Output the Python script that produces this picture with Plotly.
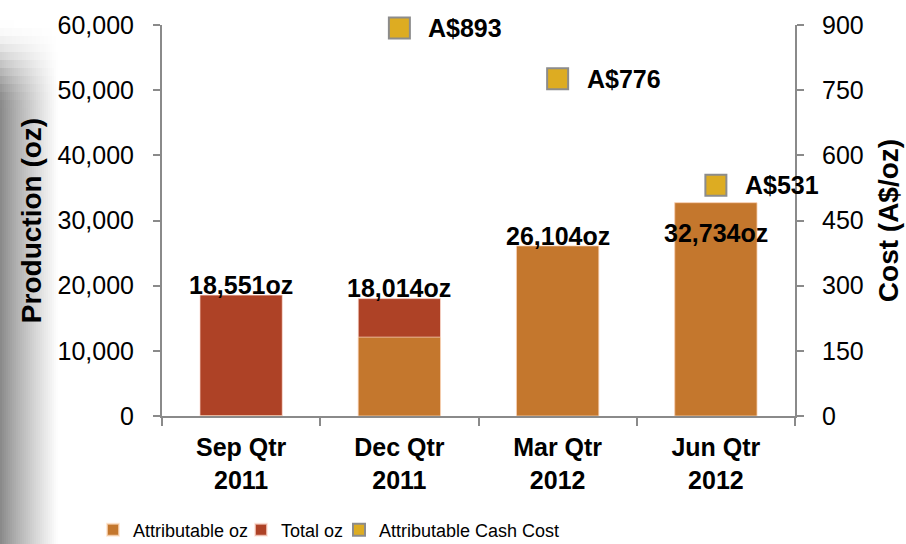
import plotly.graph_objects as go

# ---------------- data ----------------
quarters = ["Sep Qtr<br>2011", "Dec Qtr<br>2011", "Mar Qtr<br>2012", "Jun Qtr<br>2012"]
total_oz = [18551, 18014, 26104, 32734]
attributable_oz = [0, 12100, 26104, 32734]
cash_cost = [None, 893, 776, 531]

# ---------------- styles ----------------
FONT = "Liberation Sans, Arial, Helvetica, sans-serif"
C_ATTR = "#C4772D"
C_TOTAL = "#AE4226"
C_COST = "#DDAC22"
AXIS_C = "#8A8A8A"
label_yshift_px = [10, 11, 10, -30]

# plot-area geometry in pixels (for decorative shapes / legend placement)
W, H = 906, 544
L, R, T, B = 162, 111, 25, 128
PW, PH = W - L - R, H - T - B


def px_x(px):
    return (px - L) / PW


def px_y(py):
    return (H - B - py) / PH


fig = go.Figure()

fig.add_trace(go.Bar(
    x=quarters, y=total_oz, name="Total oz",
    marker=dict(color=C_TOTAL, line=dict(color="rgba(255,225,215,0.7)", width=1)),
    yaxis="y", legend="legend2",
))
fig.add_trace(go.Bar(
    x=quarters, y=attributable_oz, name="Attributable oz",
    marker=dict(color=C_ATTR, line=dict(color="rgba(255,225,200,0.7)", width=1)),
    yaxis="y", legend="legend",
))
fig.add_trace(go.Scatter(
    x=quarters, y=cash_cost, name="Attributable Cash Cost", mode="markers",
    marker=dict(symbol="square", size=21, color=C_COST, line=dict(color="#8C8C8C", width=2)),
    yaxis="y2", legend="legend3", cliponaxis=False,
))

annotations = []
for q, v, dy in zip(quarters, total_oz, label_yshift_px):
    annotations.append(dict(
        x=q, y=v, xref="x", yref="y", text=f"{v:,}oz", showarrow=False,
        xanchor="center", yanchor="middle", yshift=dy,
        font=dict(family=FONT, size=25, color="black", weight="bold"),
    ))
for q, c in zip(quarters, cash_cost):
    if c is None:
        continue
    annotations.append(dict(
        x=q, y=c, xref="x", yref="y2", text=f"A${c}", showarrow=False,
        xanchor="left", yanchor="middle", xshift=27,
        font=dict(family=FONT, size=25, color="black", weight="bold"),
    ))

# decorative grey shadow on the left edge
shapes = []
strip_w = 2
n = 29
ysteps = [20 + 8 * k for k in range(12)]  # 20 .. 108
for i in range(n):
    x0 = i * strip_w
    t = (x0 + strip_w / 2) / (n * strip_w)
    g_full = 134 + (255 - 134) * (t ** 0.85)
    bands = []
    for k in range(len(ysteps) - 1):
        s = (k + 0.5) / (len(ysteps) - 1)
        f = s * s * (3 - 2 * s)
        bands.append((ysteps[k], ysteps[k + 1], f))
    bands.append((ysteps[-1], H, 1.0))
    for (ya, yb, f) in bands:
        gi = int(round(255 - (255 - g_full) * f))
        shapes.append(dict(
            type="rect", xref="paper", yref="paper", layer="below",
            x0=px_x(x0), x1=px_x(x0 + strip_w), y0=px_y(yb), y1=px_y(ya),
            fillcolor=f"rgb({gi},{gi},{gi})", line=dict(width=0),
        ))

legend_common = dict(
    orientation="h", xanchor="left", y=px_y(530), yanchor="middle",
    font=dict(family=FONT, size=18, color="black"),
    bgcolor="rgba(0,0,0,0)", itemsizing="constant",
)

fig.update_layout(
    width=W, height=H,
    margin=dict(l=L, r=R, t=T, b=B, autoexpand=False),
    paper_bgcolor="white", plot_bgcolor="white",
    barmode="overlay", bargap=0.48,
    font=dict(family=FONT, color="black"),
    showlegend=True,
    legend=dict(x=px_x(93), **legend_common),
    legend2=dict(x=px_x(241), **legend_common),
    legend3=dict(x=px_x(339), **legend_common),
    xaxis=dict(
        range=[-0.5, 3.5],
        showline=True, linecolor=AXIS_C, linewidth=2,
        ticks="outside", tickson="boundaries", ticklen=8, tickcolor=AXIS_C, tickwidth=2,
        tickfont=dict(family=FONT, size=25, color="black", weight="bold"),
        showgrid=False, zeroline=False, automargin=False, ticklabelstandoff=8,
    ),
    yaxis=dict(
        range=[0, 60000], dtick=10000, tickformat=",",
        showline=True, linecolor=AXIS_C, linewidth=2,
        ticks="outside", ticklen=7, tickcolor=AXIS_C, tickwidth=2,
        tickfont=dict(family=FONT, size=25, color="black"),
        showgrid=False, zeroline=False, automargin=False, ticklabelstandoff=14,
        title=dict(text="Production (oz)", standoff=8,
                   font=dict(family=FONT, size=28, color="black", weight="bold")),
    ),
    yaxis2=dict(
        range=[0, 900], dtick=150, overlaying="y", side="right",
        showline=True, linecolor=AXIS_C, linewidth=2,
        ticks="outside", ticklen=7, tickcolor=AXIS_C, tickwidth=2,
        tickfont=dict(family=FONT, size=25, color="black"),
        showgrid=False, zeroline=False, automargin=False, ticklabelstandoff=13,
        title=dict(text="Cost (A$/oz)", standoff=16,
                   font=dict(family=FONT, size=28, color="black", weight="bold")),
    ),
    annotations=annotations,
    shapes=shapes,
)

fig.write_html(
    "out.html",
    config={"displayModeBar": False},
    post_script="document.body.style.margin='0';document.body.style.overflow='hidden';",
)
